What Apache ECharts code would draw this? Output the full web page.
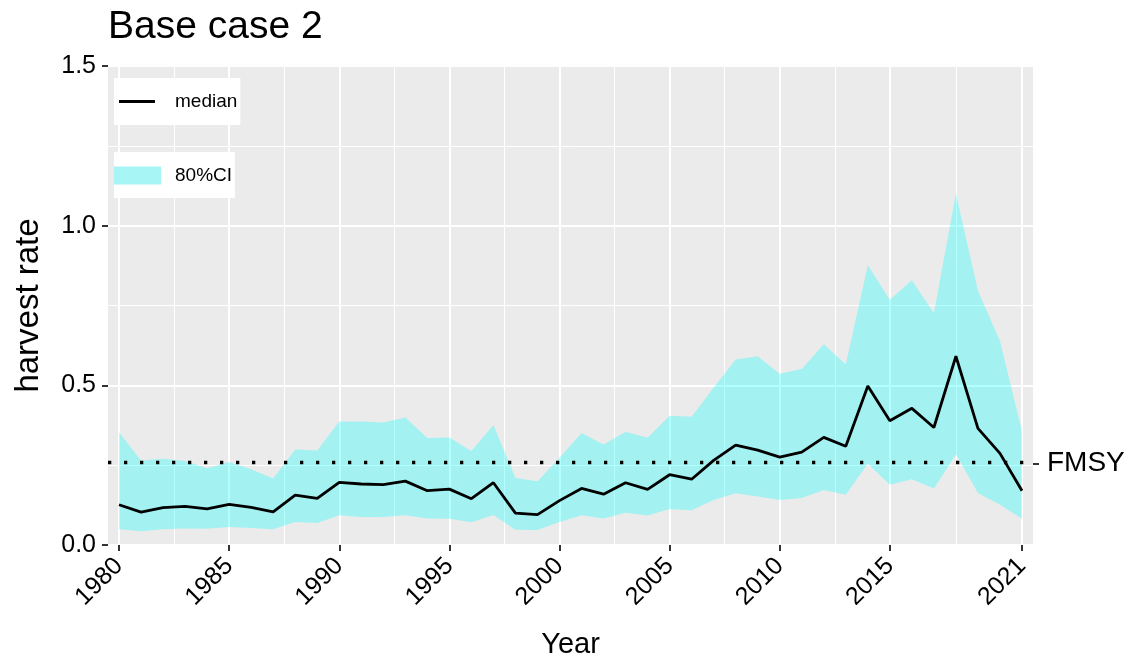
<!DOCTYPE html>
<html>
<head>
<meta charset="utf-8">
<title>Base case 2</title>
<script src="https://cdn.jsdelivr.net/npm/echarts@6/dist/echarts.min.js"></script>
<style>
  html, body { margin: 0; padding: 0; background: #fff; }
  #chart { width: 1133px; height: 664px; }
</style>
</head>
<body>
<div id="chart"></div>
<script>
// harvest rate by year
var years = [1980, 1981, 1982, 1983, 1984, 1985, 1986, 1987, 1988, 1989,
  1990, 1991, 1992, 1993, 1994, 1995, 1996, 1997, 1998, 1999,
  2000, 2001, 2002, 2003, 2004, 2005, 2006, 2007, 2008, 2009,
  2010, 2011, 2012, 2013, 2014, 2015, 2016, 2017, 2018, 2019,
  2020, 2021];
var median = [0.126, 0.103, 0.117, 0.121, 0.113, 0.127, 0.118, 0.104, 0.156, 0.146,
  0.196, 0.191, 0.189, 0.200, 0.170, 0.175, 0.145, 0.195, 0.100, 0.095,
  0.139, 0.177, 0.159, 0.195, 0.174, 0.220, 0.206, 0.265, 0.313, 0.297,
  0.275, 0.291, 0.337, 0.309, 0.498, 0.389, 0.428, 0.368, 0.591, 0.365,
  0.287, 0.170];
var upper = [0.353, 0.265, 0.270, 0.263, 0.240, 0.260, 0.237, 0.208, 0.299, 0.296,
  0.387, 0.387, 0.384, 0.399, 0.335, 0.337, 0.294, 0.376, 0.210, 0.200,
  0.273, 0.351, 0.315, 0.355, 0.336, 0.405, 0.402, 0.493, 0.581, 0.591,
  0.536, 0.551, 0.629, 0.565, 0.876, 0.768, 0.829, 0.726, 1.100, 0.796,
  0.639, 0.356];
var lower = [0.049, 0.043, 0.049, 0.052, 0.051, 0.056, 0.053, 0.049, 0.072, 0.069,
  0.093, 0.088, 0.088, 0.093, 0.083, 0.082, 0.071, 0.094, 0.048, 0.047,
  0.072, 0.093, 0.083, 0.101, 0.092, 0.113, 0.109, 0.141, 0.162, 0.152,
  0.141, 0.147, 0.172, 0.157, 0.255, 0.189, 0.206, 0.177, 0.284, 0.163,
  0.126, 0.082];
var fmsy = 0.255;

var xTicks = [1980, 1985, 1990, 1995, 2000, 2005, 2010, 2015, 2021];
var xMinorGrid = [1982.5, 1987.5, 1992.5, 1997.5, 2002.5, 2007.5, 2012.5, 2018];

var font = "'Liberation Sans', Arial, sans-serif";

// vertical grid lines (ggplot style major + minor)
var vGrid = [];
xTicks.forEach(function (v) {
  vGrid.push({ xAxis: v, lineStyle: { color: '#fff', width: 2, type: 'solid' } });
});
xMinorGrid.forEach(function (v) {
  vGrid.push({ xAxis: v, lineStyle: { color: '#fff', width: 1, type: 'solid' } });
});

// the 80% band as one polygon: upper edge forward, lower edge back
function renderBand(params, api) {
  if (params.dataIndex !== 0) return null;
  var pts = [];
  for (var i = 0; i < years.length; i++) {
    pts.push(api.coord([years[i], upper[i]]));
  }
  for (var j = years.length - 1; j >= 0; j--) {
    pts.push(api.coord([years[j], lower[j]]));
  }
  return {
    type: 'polygon',
    shape: { points: pts },
    style: { fill: 'rgba(0,255,255,0.3)' }
  };
}

var chart = echarts.init(document.getElementById('chart'));
var option = {
  animation: false,
  textStyle: { fontFamily: font },
  title: {
    text: 'Base case 2',
    left: 103,
    top: 3,
    textStyle: { fontSize: 39, fontWeight: 'normal', color: '#000', fontFamily: font }
  },
  legend: [
    {
      left: 114,
      top: 78,
      z: 10,
      data: [{ name: 'median', icon: 'path://M0,0H36V3H0Z' }],
      selectedMode: false,
      backgroundColor: '#fff',
      padding: [14, 3, 14, 5],
      itemWidth: 36,
      itemHeight: 18,
      symbolKeepAspect: true,
      formatter: function (name) { return '{s|}{t|' + name + '}'; },
      textStyle: {
        fontSize: 19,
        color: '#000',
        fontFamily: font,
        rich: {
          s: { width: 15 },
          t: { fontSize: 19, color: '#000', fontFamily: font }
        }
      }
    },
    {
      left: 114,
      top: 152,
      z: 10,
      data: [{ name: '80%CI', icon: 'rect', itemStyle: { color: '#a8f5f5' } }],
      selectedMode: false,
      backgroundColor: '#fff',
      padding: [14, 3, 13, 0],
      itemWidth: 47,
      itemHeight: 18,
      formatter: function (name) { return '{s|}{t|' + name + '}'; },
      textStyle: {
        fontSize: 19,
        color: '#000',
        fontFamily: font,
        rich: {
          s: { width: 9 },
          t: { fontSize: 19, color: '#000', fontFamily: font }
        }
      }
    }
  ],
  grid: {
    left: 108,
    right: 100,
    top: 66,
    bottom: 115,
    show: true,
    backgroundColor: '#ebebeb',
    borderWidth: 0
  },
  xAxis: {
    type: 'value',
    min: 1979.5,
    max: 2021.5,
    name: 'Year',
    nameLocation: 'middle',
    nameGap: 85,
    nameTextStyle: { fontSize: 29, color: '#000', fontFamily: font },
    axisLine: { show: false },
    axisTick: {
      show: true,
      length: 6,
      customValues: xTicks,
      lineStyle: { color: '#333', width: 2 }
    },
    axisLabel: {
      customValues: xTicks,
      rotate: 45,
      fontSize: 25,
      color: '#000',
      margin: 17,
      fontFamily: font,
      formatter: function (v) { return String(v); }
    },
    splitLine: { show: false }
  },
  yAxis: [
    {
      type: 'value',
      min: 0,
      max: 1.5,
      interval: 0.5,
      name: 'harvest rate',
      nameLocation: 'middle',
      nameGap: 63,
      nameTextStyle: { fontSize: 33, color: '#000', fontFamily: font },
      axisLine: { show: false },
      axisTick: { show: true, length: 6, lineStyle: { color: '#333', width: 2 } },
      axisLabel: {
        fontSize: 25,
        color: '#000',
        margin: 12,
        fontFamily: font,
        formatter: function (v) { return v.toFixed(1); }
      },
      splitLine: { show: true, lineStyle: { color: '#fff', width: 2 } },
      minorTick: { show: false, splitNumber: 2 },
      minorSplitLine: { show: true, lineStyle: { color: '#fff', width: 1 } }
    },
    {
      type: 'value',
      position: 'right',
      min: 0,
      max: 1.5,
      axisLine: { show: false },
      splitLine: { show: false },
      axisTick: {
        show: true,
        length: 6,
        customValues: [fmsy],
        lineStyle: { color: '#333', width: 2 }
      },
      axisLabel: {
        customValues: [fmsy],
        fontSize: 28,
        color: '#000',
        margin: 14,
        fontFamily: font,
        formatter: function () { return 'FMSY'; }
      }
    }
  ],
  series: [
    {
      name: 'grid',
      type: 'line',
      data: [],
      silent: true,
      z: 1,
      markLine: {
        z: 1,
        symbol: 'none',
        silent: true,
        label: { show: false },
        data: vGrid
      }
    },
    {
      name: '80%CI',
      type: 'custom',
      data: years.map(function (y, i) { return [y, lower[i], upper[i]]; }),
      encode: { x: 0, y: [1, 2] },
      renderItem: renderBand,
      silent: true,
      z: 2,
      itemStyle: { color: '#a8f5f5' }
    },
    {
      name: 'median',
      type: 'line',
      data: years.map(function (y, i) { return [y, median[i]]; }),
      symbol: 'none',
      z: 3,
      itemStyle: { color: '#000' },
      lineStyle: { color: '#000', width: 2.8 },
      markLine: {
        z: 4,
        symbol: 'none',
        silent: true,
        label: { show: false },
        lineStyle: { color: '#000', width: 3.3, type: [3.3, 12.7], cap: 'butt' },
        data: [{ yAxis: fmsy }]
      }
    }
  ]
};
chart.setOption(option);
</script>
</body>
</html>
